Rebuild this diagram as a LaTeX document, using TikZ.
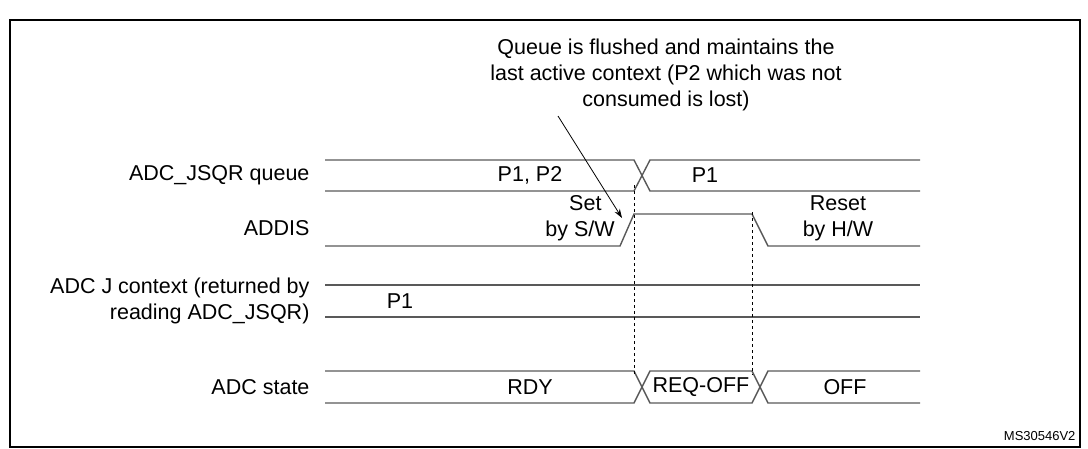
\documentclass[tikz,border=0pt]{standalone}
\usepackage{fontspec}
\setmainfont{Liberation Sans}
\usetikzlibrary{arrows.meta,positioning}
\tikzset{
  sig/.style={line width=1.4pt, draw=black!65},
  lbl/.style={anchor=east, align=right, font=\fontsize{21.5}{26}\selectfont},
  val/.style={font=\fontsize{21.5}{26}\selectfont},
  tmark/.style={dashed, line width=0.7pt}
}
\begin{document}
\begin{tikzpicture}[x=1pt,y=-1pt]
\useasboundingbox (0,0) rectangle (1088,448);

% frame
\draw[line width=1.5pt] (10,20) -- (10,447) -- (1080,447) -- (1080,20) -- cycle;

% row labels
\node[lbl] (lq) at (313,175) {ADC\_JSQR queue};
\node[lbl] (la) at (313,228) {ADDIS};
\node[lbl] (lc) at (313,301) {ADC J context (returned by\\reading ADC\_JSQR)};
\node[lbl] (ls) at (313,387) {ADC state};

% ADC_JSQR queue
\draw[sig] (325,160) -- (634,160) -- (650,191) -- (920,191);
\draw[sig] (325,191) -- (634,191) -- (650,160) -- (920,160);
\node[val] (q1) at (530,175) {P1, P2};
\node[val] (q2) at (705,175) {P1};

% ADDIS
\draw[sig] (325,246) -- (620,246) -- (634,214) -- (752,214) -- (768,246) -- (920,246);
\node[val, align=center] (set) at (580,218) {\hspace*{0.5em}Set\\by S/W};
\node[val, align=center] (rst) at (838,218) {Reset\\by H/W};

% ADC J context
\draw[sig] (325,285) -- (920,285);
\draw[sig] (325,317) -- (920,317);
\node[val] (c1) at (400,301) {P1};

% ADC state
\draw[sig] (325,371) -- (634,371) -- (650,403) -- (752,403) -- (768,371) -- (920,371);
\draw[sig] (325,403) -- (634,403) -- (650,371) -- (752,371) -- (768,403) -- (920,403);
\node[val] (s1) at (530,387) {RDY};
\node[val] (s2) at (701,387) {REQ-OFF};
\node[val] (s3) at (845,387) {OFF};

% markers
\draw[tmark] (634,185) -- (634,375);
\draw[tmark] (752,212) -- (752,375);

% note
\node[val, align=center] (note) at (666,75) {Queue is flushed and maintains the\\last active context (P2 which was not\\consumed is lost)};
\coordinate (tail) at (558,116);
\coordinate (tip) at (622,218);
\draw[-{Stealth[length=9pt,width=6pt]}, line width=0.8pt] (tail) -- (tip);

\node[anchor=south east, font=\fontsize{13}{15}\selectfont] (id) at (1079,444) {MS30546V2};
\end{tikzpicture}
\end{document}
